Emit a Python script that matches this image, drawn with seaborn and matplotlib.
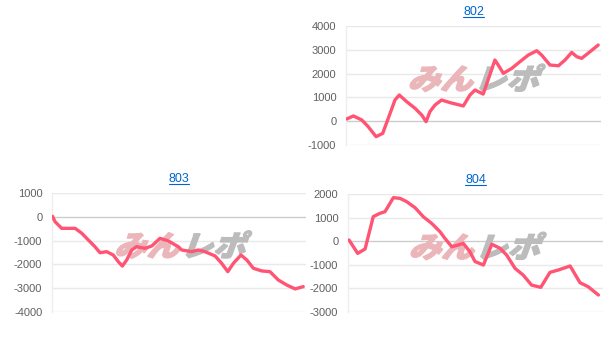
import matplotlib
matplotlib.use("Agg")
import matplotlib.pyplot as plt
import seaborn as sns
import numpy as np
import pandas as pd
from matplotlib.textpath import TextPath
from matplotlib.font_manager import FontProperties
from matplotlib.patches import PathPatch
from matplotlib.transforms import Affine2D

# ---- data (x = progress 0..100, y = difference) ----
x802 = [0.3, 2.9, 6.2, 8.7, 11.8, 14.4, 17.3, 19.2, 20.9, 23.8, 27.1, 29.7, 31.4, 32.9, 34.9, 37.5, 40.8, 46.0, 48.6, 50.6, 53.8, 58.4, 59.7, 61.7, 65.0, 68.2, 71.5, 74.8, 76.7, 80.0, 83.3, 85.9, 88.5, 90.5, 92.4, 95.7, 98.9]
y802 = [94, 220, 52, -230, -650, -510, 333, 890, 1100, 820, 540, 260, -20, 400, 680, 890, 780, 640, 1100, 1310, 1140, 2570, 2360, 2010, 2220, 2500, 2780, 2960, 2780, 2360, 2330, 2570, 2890, 2710, 2640, 2920, 3200]

x803 = [0.2, 1.2, 3.8, 6.4, 9.1, 11.7, 14.3, 16.9, 18.9, 21.5, 24.1, 26.1, 27.7, 29.4, 31.4, 33.3, 36.6, 39.3, 42.5, 45.8, 49.7, 51.1, 55.0, 57.6, 60.2, 64.2, 66.8, 69.2, 71.4, 74.4, 76.7, 79.3, 82.6, 85.8, 89.1, 92.4, 95.7, 98.9]
y803 = [20, -205, -485, -485, -485, -690, -975, -1255, -1510, -1465, -1605, -1885, -2070, -1815, -1395, -1255, -1325, -1225, -905, -1015, -1255, -1395, -1465, -1395, -1465, -1645, -1955, -2305, -1955, -1605, -1815, -2165, -2275, -2305, -2655, -2865, -3030, -2935]

x804 = [0.4, 3.8, 6.7, 9.9, 12.5, 14.5, 17.8, 20.4, 23.0, 26.3, 29.5, 32.8, 36.1, 38.0, 40.7, 43.3, 45.2, 47.8, 49.8, 53.1, 56.4, 59.6, 62.2, 65.5, 68.7, 72.0, 75.6, 79.2, 82.5, 87.1, 91.0, 94.2, 98.2]
y804 = [50, -515, -330, 1040, 1180, 1250, 1845, 1815, 1675, 1420, 1040, 755, 400, 120, -235, -160, -90, -445, -860, -1010, -130, -300, -585, -1150, -1435, -1860, -1955, -1320, -1220, -1050, -1760, -1930, -2280]

titles = ["802", "803", "804"]
ylims = [(-1000, 4000), (-4000, 1000), (-3000, 2000)]

LINE = "#ff5473"

sns.set_theme(style="white")
plt.rcParams['font.family'] = ['Liberation Sans', 'DejaVu Sans']

fig = plt.figure(figsize=(6.09, 3.39), dpi=100)
rects = [
    [346 / 609, 1 - 145 / 339, 255 / 609, 119 / 339],
    [52 / 609, 1 - 312 / 339, 254 / 609, 119 / 339],
    [348 / 609, 1 - 312 / 339, 255 / 609, 118 / 339],
]
series = [(x802, y802), (x803, y803), (x804, y804)]
wm_pos = [(0.49, 0.565), (0.494, 0.567), (0.486, 0.56)]

jp = FontProperties(family='Noto Sans CJK JP', weight='heavy')


def watermark(ax, fx, fy):
    # draw skewed "みんレポ" watermark centered at axes fraction (fx, fy)
    parts = [("みん", "#ebb6ba"), ("レポ", "#bcbcbc")]
    size = 29
    sx = 1.12
    paths = [TextPath((0, 0), t, size=size, prop=jp) for t, _ in parts]
    widths = [p.get_extents().width + 3 for p in paths]
    total = sum(widths) * sx
    fig.canvas.draw()
    bb = ax.get_window_extent()
    cx = bb.x0 + fx * bb.width
    cy = bb.y0 + fy * bb.height
    x0 = cx - total / 2
    for (t, col), p, w in zip(parts, paths, widths):
        tr = Affine2D().skew_deg(18, 0).scale(sx, 1.0).translate(x0, cy - size * 0.40)
        patch = PathPatch(p, transform=tr, facecolor=col, edgecolor=col,
                          linewidth=1.0, zorder=1)
        patch.set_clip_on(False)
        ax.add_artist(patch)
        x0 += w * sx


for rect, (xs, ys), title, yl, wp in zip(rects, series, titles, ylims, wm_pos):
    ax = fig.add_axes(rect)
    df = pd.DataFrame({"x": xs, "y": ys})
    sns.lineplot(data=df, x="x", y="y", ax=ax, color=LINE, linewidth=2.4, zorder=3)
    ax.set_ylim(*yl)
    ax.set_xlim(0, 100)
    ticks = np.arange(yl[0], yl[1] + 1, 1000)
    ax.set_yticks(ticks)
    ax.set_yticklabels([str(int(t)) for t in ticks])
    ax.set_xticks([])
    ax.set_xlabel("")
    ax.set_ylabel("")
    for t in ticks:
        ax.axhline(t, color="#cccccc" if t == 0 else "#e9e9e9", lw=1, zorder=0)
    for s in ["top", "right", "bottom"]:
        ax.spines[s].set_visible(False)
    ax.spines["left"].set_color("#eeeeee")
    ax.spines["left"].set_linewidth(1)
    ax.tick_params(axis="y", length=0, pad=7, labelsize=8, labelcolor="#606060")
    ax.set_title(title, pad=8)
    ax.title.set_fontproperties(FontProperties(family='Liberation Sans', size=9))
    ax.title.set_color("#0066cc")
    watermark(ax, *wp)

# underline titles
fig.canvas.draw()
inv = fig.transFigure.inverted()
for ax in fig.axes:
    bb = ax.title.get_window_extent()
    (x0, y0), (x1, y1) = inv.transform([[bb.x0, bb.y0], [bb.x1, bb.y1]])
    fig.add_artist(plt.Line2D([x0, x1], [y0 + 0.003, y0 + 0.003], color="#0066cc", lw=0.8))

fig.savefig("out.png", dpi=100)
